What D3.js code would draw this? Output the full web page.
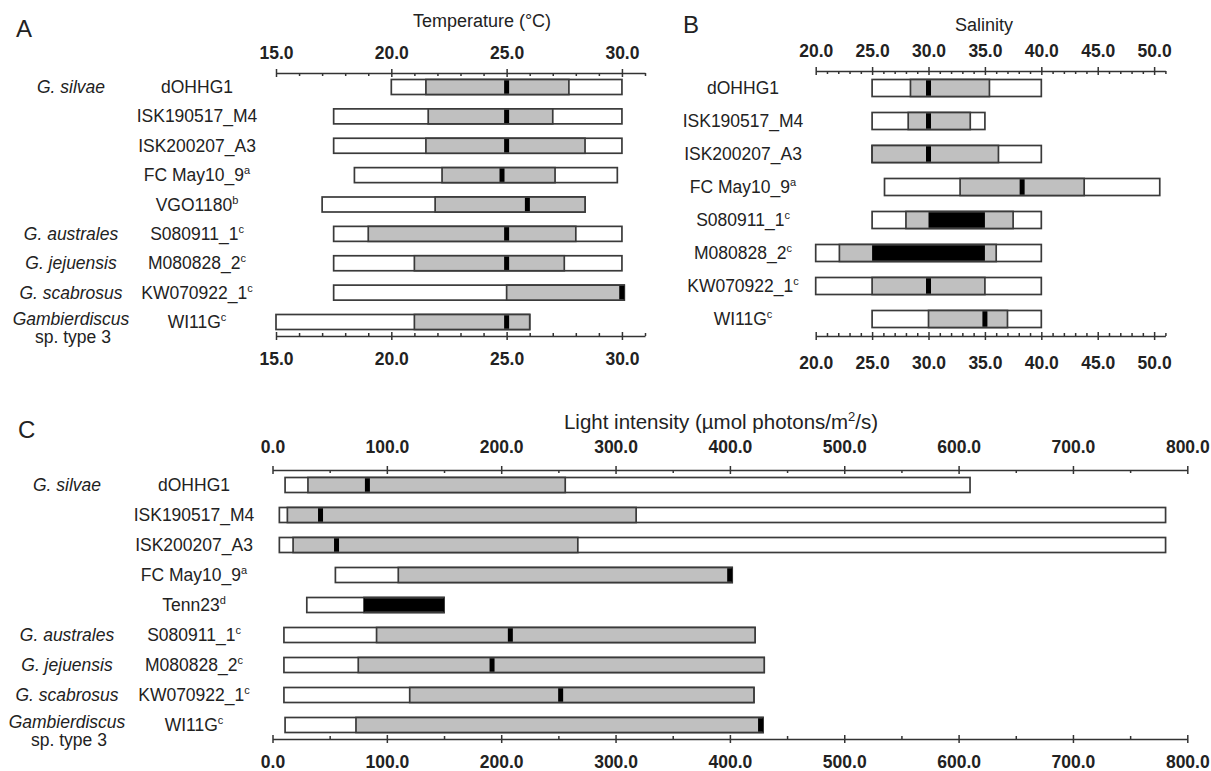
<!DOCTYPE html>
<html>
<head>
<meta charset="utf-8">
<script src="https://cdn.jsdelivr.net/npm/d3@7"></script>
<style>
  body { margin: 0; background: #fff; }
  text { font-family: "Liberation Sans", Arial, sans-serif; fill: #222; }
</style>
</head>
<body>
<script>
// ---- Temperature (°C) : range / growth range / optimum ----
var tempStrains = ["dOHHG1", "ISK190517_M4", "ISK200207_A3", "FC May10_9", "VGO1180", "S080911_1", "M080828_2", "KW070922_1", "WI11G"];
var tempSup     = ["", "", "", "a", "b", "c", "c", "c", "c"];
var tempMin     = [20.0, 17.5, 17.5, 18.4, 17.0, 17.5, 17.5, 17.5, 15.0];
var tempGrowLo  = [21.5, 21.6, 21.5, 22.2, 21.9, 19.0, 21.0, 25.0, 21.0];
var tempOptLo   = [25.0, 25.0, 25.0, 24.8, 25.9, 25.0, 25.0, 30.0, 25.0];
var tempOptHi   = [25.0, 25.0, 25.0, 24.8, 25.9, 25.0, 25.0, 30.0, 25.0];
var tempGrowHi  = [27.7, 27.0, 28.4, 27.1, 28.4, 28.0, 27.5, 30.1, 26.0];
var tempMax     = [30.0, 30.0, 30.0, 29.8, 28.4, 30.0, 30.0, 30.1, 26.0];
var tempTicks   = [15, 20, 25, 30];

// ---- Salinity ----
var salStrains = ["dOHHG1", "ISK190517_M4", "ISK200207_A3", "FC May10_9", "S080911_1", "M080828_2", "KW070922_1", "WI11G"];
var salSup     = ["", "", "", "a", "c", "c", "c", "c"];
var salMin     = [25.0, 25.0, 25.0, 26.1, 25.0, 20.0, 20.0, 25.0];
var salGrowLo  = [28.4, 28.2, 25.0, 32.8, 28.0, 22.1, 25.0, 30.0];
var salOptLo   = [30.0, 30.0, 30.0, 38.3, 30.0, 25.0, 30.0, 35.0];
var salOptHi   = [30.0, 30.0, 30.0, 38.3, 35.0, 35.0, 30.0, 35.0];
var salGrowHi  = [35.4, 33.7, 36.2, 43.8, 37.5, 36.0, 35.0, 37.0];
var salMax     = [40.0, 35.0, 40.0, 50.5, 40.0, 40.0, 40.0, 40.0];
var salTicks   = [20, 25, 30, 35, 40, 45, 50];

// ---- Light intensity (µmol photons/m2/s) ----
var lightStrains = ["dOHHG1", "ISK190517_M4", "ISK200207_A3", "FC May10_9", "Tenn23", "S080911_1", "M080828_2", "KW070922_1", "WI11G"];
var lightSup     = ["", "", "", "a", "d", "c", "c", "c", "c"];
var lightMin     = [11, 6, 6, 55, 30, 10, 10, 10, 11];
var lightGrowLo  = [31, 13, 18, 110, 80, 91, 75, 120, 73];
var lightOptLo   = [83, 42, 56, 400, 80, 208, 192, 252, 427];
var lightOptHi   = [83, 42, 56, 400, 150, 208, 192, 252, 427];
var lightGrowHi  = [256, 318, 267, 402, 150, 422, 430, 421, 429];
var lightMax     = [610, 781, 781, 402, 150, 422, 430, 421, 429];
var lightTicks   = [0, 100, 200, 300, 400, 500, 600, 700, 800];

// species names and the strain row they sit on (panels A and C)
var speciesNames = ["G. silvae", "G. australes", "G. jejuensis", "G. scabrosus", "Gambierdiscus"];
var speciesRows  = [0, 5, 6, 7, 8];

var svg = d3.select("body").append("svg")
    .attr("width", 1211)
    .attr("height", 771);

var fmt = d3.format(".1f");
var markerW = 5;   // optimum marker width when it is a single value (px)

function drawAxis(x, yPos, majors, minors, top, pad) {
    var g = svg.append("g").attr("transform", "translate(0," + yPos + ")");
    // labelled side
    g.append("g")
        .call((top ? d3.axisTop(x) : d3.axisBottom(x))
            .tickValues(majors).tickSize(4).tickSizeOuter(0)
            .tickPadding(pad).tickFormat(fmt));
    // the other side: majors cross the line, minors point to the bars
    var inward = top ? d3.axisBottom : d3.axisTop;
    g.append("g").attr("class", "in")
        .call(inward(x).tickValues(majors).tickSize(4).tickSizeOuter(0).tickFormat(""));
    g.append("g").attr("class", "in")
        .call(inward(x).tickValues(minors).tickSize(3).tickSizeOuter(0).tickFormat(""));
    g.selectAll(".in .domain").remove();
    g.selectAll("path, line").attr("stroke", "#333").attr("stroke-width", 1.5);
    g.selectAll("text")
        .attr("font-size", 17.5)
        .attr("font-weight", "bold")
        .attr("fill", "#111")
        .attr("font-family", "'Liberation Sans', Arial, sans-serif");
}

function strainText(sel, name, sup) {
    sel.append("tspan").text(name);
    if (sup) {
        sel.append("tspan").attr("font-size", 11).attr("dy", -7).text(sup);
    }
}

function drawPanel(p) {
    var x = d3.scaleLinear().domain(p.domain).range(p.xRange);
    var y = d3.scalePoint().domain(d3.range(p.strains.length)).range(p.yRange);
    var h = p.barH;

    var rows = svg.append("g").selectAll("g")
        .data(p.strains)
        .enter()
        .append("g")
        .attr("transform", function (d, i) { return "translate(0," + y(i) + ")"; });

    // full tolerated range
    rows.append("rect")
        .attr("x", function (d, i) { return x(p.min[i]); })
        .attr("width", function (d, i) { return x(p.max[i]) - x(p.min[i]); })
        .attr("y", -h / 2).attr("height", h)
        .attr("fill", "#fff").attr("stroke", "#3a3a3a").attr("stroke-width", 1.7);

    // growth range
    rows.append("rect")
        .attr("x", function (d, i) { return x(p.growLo[i]); })
        .attr("width", function (d, i) { return x(p.growHi[i]) - x(p.growLo[i]); })
        .attr("y", -h / 2).attr("height", h)
        .attr("fill", "#c0c0c0").attr("stroke", "#3a3a3a").attr("stroke-width", 1.7);

    // optimum
    rows.append("rect")
        .attr("x", function (d, i) {
            var a = x(p.optLo[i]), b = x(p.optHi[i]);
            if (b - a >= markerW) return a;
            var c = (a + b) / 2 - markerW / 2;
            return Math.max(x(p.min[i]), Math.min(c, x(p.max[i]) - markerW));
        })
        .attr("width", function (d, i) { return Math.max(markerW, x(p.optHi[i]) - x(p.optLo[i])); })
        .attr("y", -h / 2 + 0.8).attr("height", h - 1.6)
        .attr("fill", "#000");

    // strain labels
    rows.append("text")
        .attr("x", p.labelX)
        .attr("y", 6)
        .attr("text-anchor", "middle")
        .attr("font-size", 17.5)
        .each(function (d, i) { strainText(d3.select(this), d, p.sup[i]); });

    // axes
    drawAxis(x, p.axisTop, p.ticks, p.minors, true, p.padTop);
    drawAxis(x, p.axisBottom, p.ticks, p.minors, false, p.padBottom);

    // species labels
    if (p.speciesX) {
        speciesNames.forEach(function (s, k) {
            svg.append("text")
                .attr("x", p.speciesX)
                .attr("y", y(speciesRows[k]) + (k === 4 ? 3 : 6))
                .attr("text-anchor", "middle")
                .attr("font-size", 17.5)
                .attr("font-style", "italic")
                .attr("fill", "#333")
                .text(s);
            if (k === 4) {
                svg.append("text")
                    .attr("x", p.speciesX + 2)
                    .attr("y", y(speciesRows[k]) + 21)
                    .attr("text-anchor", "middle")
                    .attr("font-size", 17.5)
                    .attr("fill", "#333")
                    .text("sp. type 3");
            }
        });
    }
}

function minorTicks(lo, hi, step, major) {
    return d3.range(lo, hi + step / 2, step).filter(function (v) { return v % major !== 0; });
}

// panel A
drawPanel({
    strains: tempStrains, sup: tempSup,
    min: tempMin, growLo: tempGrowLo, optLo: tempOptLo, optHi: tempOptHi, growHi: tempGrowHi, max: tempMax,
    domain: [15, 31], xRange: [276, 645], ticks: tempTicks, minors: minorTicks(15, 31, 1, 5),
    yRange: [87, 322], barH: 15, axisTop: 73, axisBottom: 336, padTop: 10.5, padBottom: 12.5,
    labelX: 197, speciesX: 71
});

// panel B
drawPanel({
    strains: salStrains, sup: salSup,
    min: salMin, growLo: salGrowLo, optLo: salOptLo, optHi: salOptHi, growHi: salGrowHi, max: salMax,
    domain: [20, 51], xRange: [815.7, 1165.4], ticks: salTicks, minors: minorTicks(20, 51, 1, 5),
    yRange: [88, 319], barH: 17, axisTop: 71, axisBottom: 336, padTop: 10.5, padBottom: 17,
    labelX: 743, speciesX: null
});

// panel C
drawPanel({
    strains: lightStrains, sup: lightSup,
    min: lightMin, growLo: lightGrowLo, optLo: lightOptLo, optHi: lightOptHi, growHi: lightGrowHi, max: lightMax,
    domain: [0, 800], xRange: [272.5, 1187.3], ticks: lightTicks, minors: minorTicks(0, 800, 50, 100),
    yRange: [485, 725], barH: 15, axisTop: 470, axisBottom: 739, padTop: 13, padBottom: 12.5,
    labelX: 194, speciesX: 67
});

// titles and panel letters
svg.append("text").attr("x", 482).attr("y", 27).attr("text-anchor", "middle")
    .attr("font-size", 18).text("Temperature (\u00B0C)");
svg.append("text").attr("x", 984).attr("y", 31).attr("text-anchor", "middle")
    .attr("font-size", 18).text("Salinity");
var lt = svg.append("text").attr("x", 721).attr("y", 429).attr("text-anchor", "middle")
    .attr("font-size", 20.5);
lt.append("tspan").text("Light intensity (\u00B5mol photons/m");
lt.append("tspan").attr("font-size", 13).attr("dy", -8).text("2");
lt.append("tspan").attr("dy", 8).text("/s)");

svg.append("text").attr("x", 16).attr("y", 37).attr("font-size", 24).text("A");
svg.append("text").attr("x", 683).attr("y", 33).attr("font-size", 24).text("B");
svg.append("text").attr("x", 18).attr("y", 438).attr("font-size", 24).text("C");
</script>
</body>
</html>
